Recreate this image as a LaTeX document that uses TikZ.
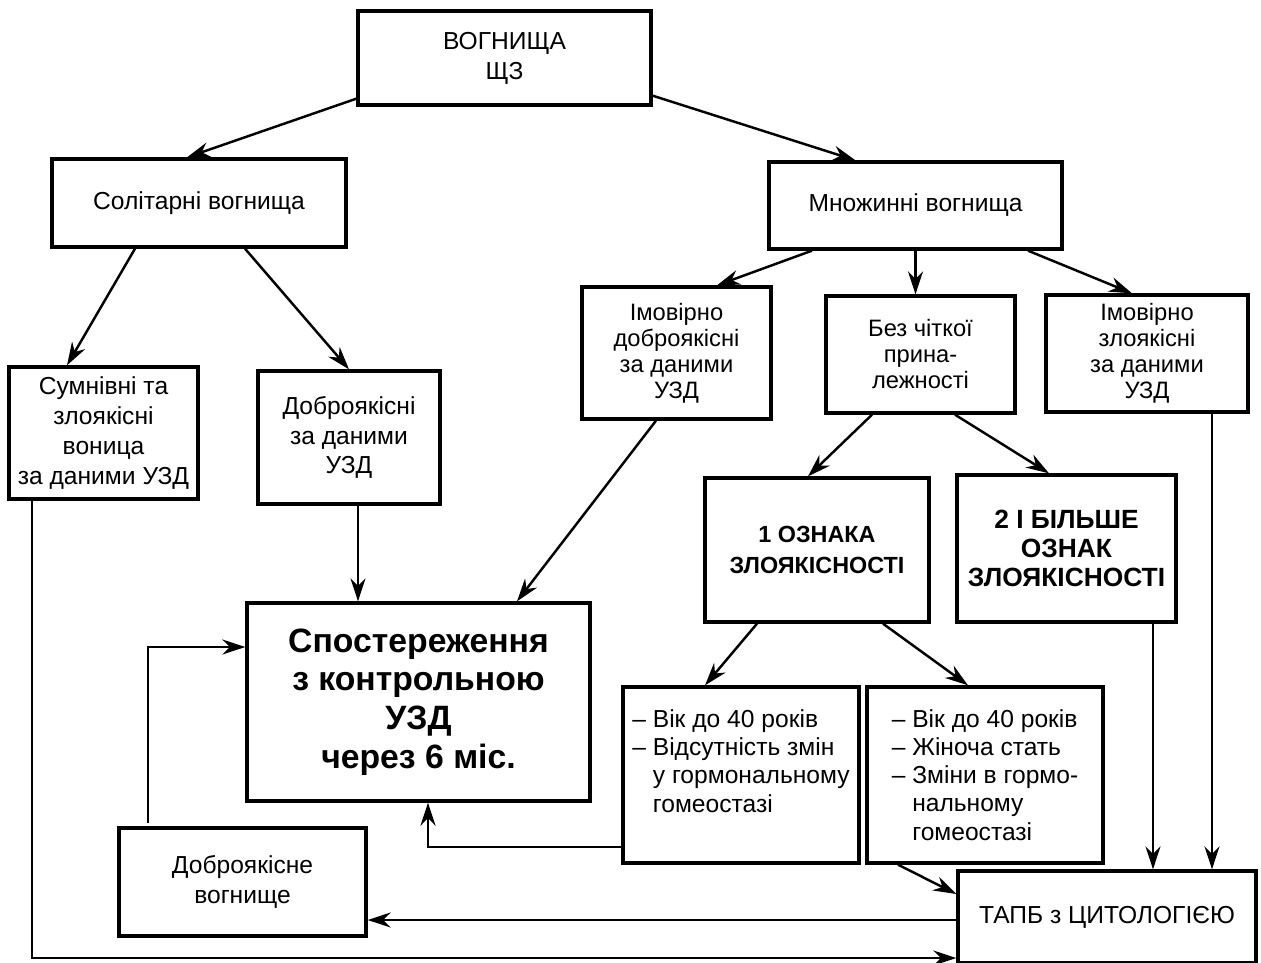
\documentclass[tikz,border=0pt]{standalone}
\usepackage{fontspec}
\setmainfont{Liberation Sans}
\usetikzlibrary{arrows.meta}

\begin{document}
\begin{tikzpicture}[x=0.2mm, y=-0.2mm,
	box/.style={draw, line width=1.9pt, align=center, inner sep=1pt, font=\fontsize{14}{17}\selectfont},
	narrowbox/.style={box, font=\fontsize{13.5}{14.8}\selectfont},
	listbox/.style={box, align=left, font=\fontsize{14}{16}\selectfont},
	arr/.style={line width=1.4pt, -{Stealth[length=4.6mm, width=3mm, inset=1.5mm]}}]
	\useasboundingbox (0,0) rectangle (1261,962);

	% boxes
	\node[box, minimum width=58.6mm, minimum height=18.8mm] (top) at (504.5,58) {ВОГНИЩА\\ЩЗ};
	\node[box, minimum width=58.8mm, minimum height=17.6mm] (sol) at (199,203) {Солітарні вогнища};
	\node[box, minimum width=58.6mm, minimum height=17.4mm] (mnoz) at (915.5,205.5) {Множинні вогнища};

	\node[box, minimum width=37.8mm, minimum height=26.4mm] (sumn) at (103.5,433) {Сумнівні та\\злоякісні\\воница\\за даними УЗД};
	\node[box, minimum width=36.4mm, minimum height=26.6mm] (dobruzd) at (349,437.5) {Доброякісні\\за даними\\УЗД};
	\node[narrowbox, minimum width=37.8mm, minimum height=26.4mm] (imdobr) at (676.5,353) {Імовірно\\доброякісні\\за даними\\УЗД};
	\node[narrowbox, minimum width=37.8mm, minimum height=23.4mm] (bez) at (920.5,354.5) {Без чіткої\\прина-\\лежності};
	\node[narrowbox, minimum width=40.4mm, minimum height=23.4mm] (imzl) at (1147,353.5) {Імовірно\\злоякісні\\за даними\\УЗД};

	\node[box, minimum width=44.8mm, minimum height=28.8mm, font=\fontsize{13.3}{18}\selectfont\bfseries] (ozn1) at (817,550) {1 ОЗНАКА\\ЗЛОЯКІСНОСТІ};
	\node[box, minimum width=43.8mm, minimum height=29.4mm, font=\fontsize{15}{16.5}\selectfont\bfseries] (ozn2) at (1066.5,548.5) {2 І БІЛЬШЕ\\ОЗНАК\\ЗЛОЯКІСНОСТІ};

	\node[box, minimum width=68.6mm, minimum height=39.6mm, font=\fontsize{19.2}{22}\selectfont\bfseries] (spost) at (418.5,702) {Спостереження\\з контрольною\\УЗД\\через 6 міс.};

	\node[listbox, minimum width=47.2mm, minimum height=35.2mm] (listl) at (741,775) {– Вік до 40 років\\– Відсутність змін\\\hphantom{– }у гормональному\\\hphantom{– }гомеостазі\\\mbox{}};
	\node[listbox, minimum width=47.2mm, minimum height=35.2mm] (listr) at (985,775) {– Вік до 40 років\\– Жіноча стать\\– Зміни в гормо-\\\hphantom{– }нальному\\\hphantom{– }гомеостазі};

	\node[box, minimum width=49.4mm, minimum height=21.6mm] (dobrvog) at (242.5,882) {Доброякісне\\вогнище};
	\node[box, minimum width=59.6mm, minimum height=18.4mm] (tapb) at (1107,917) {ТАПБ з ЦИТОЛОГІЄЮ};

	% arrows
	\draw[arr] ([yshift=1.6mm]top.south west) -- ([xshift=-2.4mm]sol.north);
	\draw[arr] ([yshift=2.2mm]top.south east) -- ([xshift=-12mm]mnoz.north);
	\draw[arr] ([xshift=-12.8mm]sol.south) -- ([xshift=-7.3mm]sumn.north);
	\draw[arr] ([xshift=9.2mm]sol.south) -- (dobruzd.north);
	\draw[arr] ([xshift=-20.7mm]mnoz.south) -- ([xshift=8.1mm]imdobr.north);
	\draw[arr] (mnoz.south) -- (mnoz.south |- bez.north);
	\draw[arr] ([xshift=22.5mm]mnoz.south) -- ([xshift=-3mm]imzl.north);
	\draw[arr] ([xshift=-4.1mm]imdobr.south) -- ([xshift=19.7mm]spost.north);
	\draw[arr] ([xshift=1.8mm]dobruzd.south) -- ([xshift=1.8mm]dobruzd.south |- spost.north);
	\draw[arr] ([xshift=-9.7mm]bez.south) -- ([xshift=-1.8mm]ozn1.north);
	\draw[arr] ([xshift=6.9mm]bez.south) -- ([xshift=-3.5mm]ozn2.north);
	\draw[arr] ([xshift=-12mm]ozn1.south) -- ([xshift=-7.2mm]listl.north);
	\draw[arr] ([xshift=13.2mm]ozn1.south) -- ([xshift=-3.4mm]listr.north);
	\draw[arr] ([xshift=9.2mm]tapb.north |- ozn2.south) -- ([xshift=9.2mm]tapb.north);
	\draw[arr] ([xshift=21mm]tapb.north |- imzl.south) -- ([xshift=21mm]tapb.north);
	\draw[arr] ([xshift=-17.4mm]listr.south) -- ([yshift=4.6mm]tapb.west);
	\draw[arr] ([yshift=-14.4mm]listl.west) -| ([xshift=1.9mm]spost.south);
	\draw[arr] ([xshift=-18.9mm,yshift=0.6mm]dobrvog.north) |- ([yshift=11mm]spost.west);
	\draw[arr] ([xshift=-14.3mm]sumn.south) |- ([yshift=-8.2mm]tapb.west);
	\draw[arr] ([yshift=-0.6mm]tapb.west) -- ([yshift=-0.6mm]tapb.west -| dobrvog.east);

\end{tikzpicture}
\end{document}
